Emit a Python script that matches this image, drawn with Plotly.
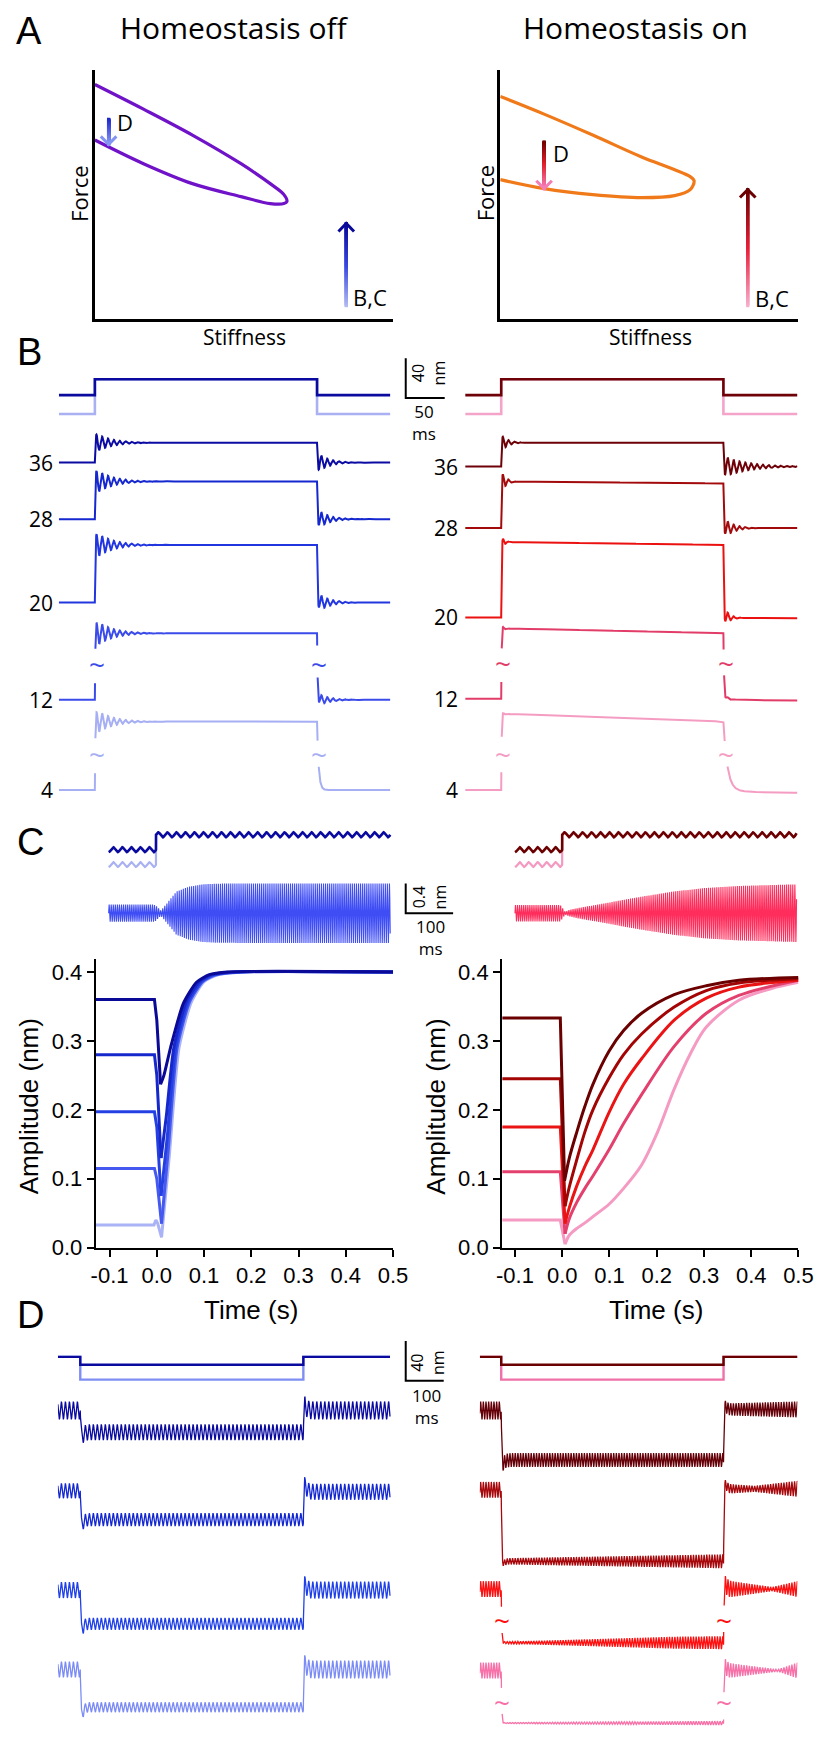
import numpy as np
import plotly.graph_objects as go

W, H = 822, 1739

# ============================ DATA ============================
# ---- Panel A: force / stiffness loops (normalised units) ----
A_OFF_UPPER_X = [0.000, 0.163, 0.327, 0.490, 0.588, 0.634, 0.644]
A_OFF_UPPER_Y = [0.940, 0.841, 0.737, 0.622, 0.542, 0.498, 0.470]
A_OFF_LOWER_X = [0.000, 0.163, 0.327, 0.490, 0.588, 0.634]
A_OFF_LOWER_Y = [0.717, 0.622, 0.542, 0.490, 0.462, 0.462]
A_ON_UPPER_X = [0.000, 0.147, 0.310, 0.474, 0.585, 0.637, 0.650]
A_ON_UPPER_Y = [0.892, 0.821, 0.737, 0.649, 0.598, 0.570, 0.554]
A_ON_LOWER_X = [0.000, 0.147, 0.310, 0.474, 0.585, 0.637]
A_ON_LOWER_Y = [0.558, 0.522, 0.498, 0.486, 0.494, 0.518]
# arrows: x, tail y, head y
A_OFF_ARROW_D = [0.046, 0.800, 0.700]
A_OFF_ARROW_BC = [0.843, 0.052, 0.382]
A_ON_ARROW_D = [0.147, 0.709, 0.522]
A_ON_ARROW_BC = [0.830, 0.052, 0.518]

# ---- Panel B: step responses (ms, nm) ----
B_LABELS = ["36", "28", "20", "12", "4"]
B_T_OFF = 285.0
B_STIM_STEP = [16, 35]                 # dark, light
BL_HEIGHT = [20, 38, 58, 67, 69]
BL_OVER = [9, 12, 13, 13, 12]
BL_UNDER = [9, 9, 9, 6, 0]
BL_SAG = [0, 0, 0, 0, 0]
BL_END = [0, 0, 0, 0, 0]
BR_HEIGHT = [24, 47, 76, 71, 77]
BR_OVER = [7, 9, 6, 4, 3]
BR_UNDER = [10, 9, 9, 5, 0]
BR_SAG = [0, 2, 3, 5, 8]
BR_END = [0, 0, -1, -2, -3]

# ---- Panel C: oscillation amplitude (s, nm) ----
CL_T = [
    [-0.129, -0.005, 0.000, 0.008, 0.015, 0.029, 0.056, 0.084, 0.111, 0.150, 0.500],
    [-0.129, -0.005, 0.000, 0.009, 0.020, 0.036, 0.062, 0.090, 0.115, 0.160, 0.500],
    [-0.129, -0.005, 0.000, 0.009, 0.022, 0.040, 0.066, 0.094, 0.120, 0.170, 0.500],
    [-0.129, -0.005, 0.000, 0.010, 0.024, 0.043, 0.069, 0.097, 0.125, 0.180, 0.500],
    [-0.129, -0.006, -0.002, 0.002, 0.010, 0.026, 0.047, 0.073, 0.100, 0.130, 0.190, 0.500],
]
CL_V = [
    [0.360, 0.360, 0.330, 0.237, 0.250, 0.290, 0.354, 0.385, 0.396, 0.400, 0.400],
    [0.280, 0.280, 0.250, 0.130, 0.190, 0.290, 0.356, 0.386, 0.396, 0.400, 0.400],
    [0.197, 0.197, 0.175, 0.075, 0.160, 0.290, 0.356, 0.386, 0.396, 0.400, 0.400],
    [0.115, 0.115, 0.100, 0.035, 0.140, 0.290, 0.356, 0.386, 0.396, 0.400, 0.400],
    [0.033, 0.033, 0.040, 0.035, 0.015, 0.130, 0.290, 0.356, 0.386, 0.396, 0.400, 0.400],
]
CR_T = [
    [-0.127, -0.004, 0.005, 0.015, 0.031, 0.048, 0.065, 0.099, 0.130, 0.168, 0.237, 0.305, 0.374, 0.500],
    [-0.127, -0.004, 0.006, 0.015, 0.031, 0.048, 0.065, 0.099, 0.130, 0.168, 0.237, 0.305, 0.374, 0.500],
    [-0.127, -0.004, 0.006, 0.015, 0.031, 0.048, 0.065, 0.099, 0.130, 0.168, 0.237, 0.305, 0.374, 0.500],
    [-0.127, -0.004, 0.006, 0.015, 0.031, 0.048, 0.065, 0.099, 0.130, 0.168, 0.237, 0.305, 0.374, 0.500],
    [-0.127, -0.004, 0.006, 0.015, 0.031, 0.048, 0.065, 0.099, 0.130, 0.168, 0.202, 0.237, 0.271,
     0.305, 0.374, 0.443, 0.500],
]
CR_V = [
    [0.333, 0.333, 0.097, 0.130, 0.168, 0.205, 0.237, 0.285, 0.315, 0.340, 0.367, 0.380, 0.388, 0.392],
    [0.245, 0.245, 0.060, 0.088, 0.128, 0.168, 0.200, 0.246, 0.280, 0.310, 0.349, 0.373, 0.384, 0.390],
    [0.175, 0.175, 0.035, 0.058, 0.090, 0.118, 0.142, 0.196, 0.237, 0.274, 0.330, 0.362, 0.378, 0.388],
    [0.110, 0.110, 0.020, 0.042, 0.066, 0.086, 0.104, 0.142, 0.180, 0.222, 0.292, 0.340, 0.366, 0.388],
    [0.040, 0.040, 0.005, 0.018, 0.028, 0.036, 0.045, 0.063, 0.086, 0.120, 0.168, 0.230, 0.281,
     0.320, 0.359, 0.376, 0.385],
]
C_STIM_STEP = [0.2, 0.4]      # dark, light (nm)
C_STIM_AMP = 0.033            # nm
C_STIM_PERIOD = 0.019         # s
C_BAND_FREQ = 230.0           # Hz
C_BAND_TRACE = 3              # band uses envelope of 4th trace

# ---- Panel D: negative steps (ms, nm) ----
D_T_OFF = [587.0, 585.0]
D_STIM_STEP = [8, 23]
DL_STEP = [22, 29, 34, 38]
DL_POST = [0, -1, 0, 0]
DL_OV_ON = [5, 6, 7, 9]
DL_OV_OFF = [6, 8, 7, 7]
DL_AMP_T = [[-60, 0, 3, 587, 590, 820]] * 4
DL_AMP_V = [[9, 9, 8, 8, 9, 9],
            [7.5, 7.5, 6.5, 6.5, 8, 8],
            [8, 8, 6, 6, 8.5, 8.5],
            [8, 8, 5, 5, 9, 9]]
DR_STEP = [50, 72, 54, 53]
DR_POST = [1, 1, 0, 0]
DR_OV_ON = [5, 3, 0, 0]
DR_OV_OFF = [4, 6, 6, 5]
DR_AMP_T = [[-57, 0, 3, 585, 588, 780],
            [-57, 0, 3, 585, 588, 667, 780],
            [-57, 0, 3, 113, 285, 456, 585, 588, 713, 780],
            [-57, 0, 3, 585, 588, 728, 780]]
DR_AMP_V = [[9, 9, 7, 7, 6, 8],
            [8, 8, 3, 7, 5, 3, 8],
            [8, 8, 1, 2, 4, 6, 6.5, 9, 2, 8],
            [8, 8, 0.5, 2, 8, 1, 8]]

# ============================ STYLE / LAYOUT ============================
MYR = "Open Sans, Noto Sans, DejaVu Sans, sans-serif"
ARL = "Liberation Sans, Arial, sans-serif"

BLUE_STIM = ["#0A0A9E", "#A9B1F2"]
RED_STIM = ["#6E0008", "#F4A3C9"]
BL_COLORS = ["#0B0BA3", "#1527CF", "#2236E0", "#3A4BEA", "#A6AEF4"]
BR_COLORS = ["#6E0008", "#A30A0C", "#EC1111", "#E23D69", "#F59CC3"]
CL_COLORS = ["#0A0A96", "#1628CC", "#2540E2", "#4558F0", "#A9B3F5"]
CR_COLORS = ["#6B0000", "#A30505", "#EA1414", "#E4406E", "#F59AC2"]
C_BAND_COLORS = ["#3F4DF5", "#FF2D5C"]
DL_COLORS = ["#0A0AA0", "#1428D2", "#2040E8", "#7C8CF5"]
DR_COLORS = ["#650008", "#A6080C", "#FF1010", "#F870A8"]
D_STIM_L = ["#0A0A9E", "#7E8EF2"]
D_STIM_R = ["#6B0000", "#F070A8"]

BL_BASE = [342, 285, 201, 103, 12]
BR_BASE = [338, 276, 186, 104, 12]
B_STIM_BASE = 410
B_GAP = (24, 49)
DL_BASE = [326, 245, 145, 65]
DR_BASE = [326, 246, 146, 64]
D_STIM_BASE = 380
DR_GAP = [None, None, (20, 42), (22, 42)]

fig = go.Figure()
axes = {}
anns = []


def make_axes(n, xpx, ypx, xr, yr, xkw=None, ykw=None):
    xn = 'xaxis' if n == 1 else f'xaxis{n}'
    yn = 'yaxis' if n == 1 else f'yaxis{n}'
    xref = 'x' if n == 1 else f'x{n}'
    yref = 'y' if n == 1 else f'y{n}'
    base = dict(showgrid=False, zeroline=False, showticklabels=False, ticks='',
                showline=False, fixedrange=True)
    xa = dict(base, domain=[xpx[0] / W, xpx[1] / W], range=xr, anchor=yref)
    ya = dict(base, domain=[1 - ypx[1] / H, 1 - ypx[0] / H], range=yr, anchor=xref)
    if xkw:
        xa.update(xkw)
    if ykw:
        ya.update(ykw)
    axes[xn] = xa
    axes[yn] = ya
    return xref, yref


def line(ax, x, y, color, width, shape='linear', smoothing=None):
    ln = dict(color=color, width=width, shape=shape)
    if smoothing is not None:
        ln['smoothing'] = smoothing
    y = [None if (v is None or (isinstance(v, float) and np.isnan(v))) else float(v) for v in y]
    x = [float(v) for v in x]
    fig.add_trace(go.Scatter(x=x, y=y, mode='lines', line=ln, xaxis=ax[0], yaxis=ax[1],
                             hoverinfo='skip', showlegend=False))


def ann_px(text, px, py, size, family=MYR, color='black', angle=0,
           xanchor='center', yanchor='middle'):
    anns.append(dict(text=text, x=px / W, y=1 - py / H, xref='paper', yref='paper',
                     showarrow=False, textangle=angle, xanchor=xanchor, yanchor=yanchor,
                     font=dict(size=size, family=family, color=color)))


def hex2rgb(h):
    h = h.lstrip('#')
    return [int(h[i:i + 2], 16) for i in (0, 2, 4)]


def grad_colors(stops, n):
    rgb = np.array([hex2rgb(c) for c in stops], float)
    pos = np.linspace(0, 1, len(stops))
    out = []
    for k in np.linspace(0, 1, n):
        r, g, b = (np.interp(k, pos, rgb[:, i]) for i in range(3))
        out.append(f'rgb({r:.0f},{g:.0f},{b:.0f})')
    return out


# ============================ PANEL A ============================
A_AX_PX = [((83, 389), (62, 313)), ((499, 805), (62, 313))]
akw = dict(showline=True, linecolor='black', linewidth=2.6)
axA = [make_axes(1, *A_AX_PX[0], [0, 1], [0, 1], akw, akw),
       make_axes(2, *A_AX_PX[1], [0, 1], [0, 1], akw, akw)]
loops = [(A_OFF_UPPER_X, A_OFF_UPPER_Y, A_OFF_LOWER_X, A_OFF_LOWER_Y, "#7012C8"),
         (A_ON_UPPER_X, A_ON_UPPER_Y, A_ON_LOWER_X, A_ON_LOWER_Y, "#F07A1A")]
for ax, (ux, uy, lx, ly, col) in zip(axA, loops):
    line(ax, list(ux) + list(lx[::-1]), list(uy) + list(ly[::-1]), col, 3.2, 'spline', 1.0)


def grad_arrow(ax, arrow, stops, sx=306.0, sy=251.0):
    x, y0, y1 = arrow
    n = 120
    ys = np.linspace(y0, y1, n)
    cols = grad_colors(stops, n)
    fig.add_trace(go.Scatter(x=[x] * n, y=ys, mode='markers', xaxis=ax[0], yaxis=ax[1],
                             marker=dict(symbol='square', size=3.2, color=cols, line_width=0),
                             hoverinfo='skip', showlegend=False))
    d = np.sign(y1 - y0)
    hx, hy = 8.0 / sx, 8.0 / sy
    line(ax, [x - hx, x, x + hx], [y1 - d * hy, y1, y1 - d * hy], stops[-1], 3.0)


grad_arrow(axA[0], A_OFF_ARROW_D, ["#1A24C8", "#8494F2"])
grad_arrow(axA[0], A_OFF_ARROW_BC, ["#B4BCF4", "#3848E0", "#0A0A9A"])
grad_arrow(axA[1], A_ON_ARROW_D, ["#6B0000", "#E0202A", "#F47DB4"])
grad_arrow(axA[1], A_ON_ARROW_BC, ["#F8B0D0", "#E8203A", "#6B0000"])

ann_px("A", 15, 23, 38, ARL)
ann_px("Homeostasis off", 226, 20, 30)
ann_px("Homeostasis on", 638, 20, 30)
ann_px("Force", 66, 187, 22, angle=-90)
ann_px("Force", 483, 187, 22, angle=-90)
ann_px("Stiffness", 237, 331, 21)
ann_px("Stiffness", 653, 331, 21)
ann_px("D", 114, 115, 22)
ann_px("B,C", 365, 291, 22)
ann_px("D", 561, 146, 22)
ann_px("B,C", 778, 292, 22)

# ============================ PANEL B ============================
axBL = make_axes(3, (46, 450), (340, 800), [-46.25, 458.75], [0, 460])
axBR = make_axes(4, (463, 804), (340, 800), [-46.25, 380.0], [0, 460])
tB = np.arange(-46.25, 380.0001, 0.1)


def b_response(t, h, ov, un, sag, end, tau_on, tau_off, tau_fall, P=7.5, tau_r=0.6):
    y = np.zeros_like(t)
    on = (t >= 0) & (t < B_T_OFF)
    s = t[on]
    y[on] = (h * (1 - np.exp(-s / tau_r)) - sag * (s / B_T_OFF)
             + ov * np.exp(-(s - P / 4) / tau_on) * np.sin(2 * np.pi * s / P))
    off = t >= B_T_OFF
    s = t[off] - B_T_OFF
    lvl = h - sag
    y[off] = (lvl * np.exp(-s / tau_fall) + end * (1 - np.exp(-s / 40.0))
              - un * np.exp(-(s - P / 4) / tau_off) * np.sin(2 * np.pi * s / P))
    return y


def mask_gap(t, y, lo, hi, edges, win=12):
    near = np.zeros_like(t, dtype=bool)
    for e in edges:
        near |= np.abs(t - e) < win
    y = y.copy()
    y[near & (y > lo) & (y < hi)] = np.nan
    return y


b_cfg = [
    (axBL, 378.75, BL_HEIGHT, BL_OVER, BL_UNDER, BL_SAG, BL_END, BL_BASE, BL_COLORS, BLUE_STIM,
     [20] * 5, [14] * 5, [0.8, 0.8, 0.8, 0.8, 2.0], 83, 311, 42),
    (axBR, 380.0, BR_HEIGHT, BR_OVER, BR_UNDER, BR_SAG, BR_END, BR_BASE, BR_COLORS, RED_STIM,
     [8, 5, 3, 2, 2], [30, 12, 6, 3, 3], [0.8, 0.8, 0.8, 1.0, 5.0], 500, 729, 458),
]
for (ax, tend, HT, OV, UN, SG, EN, BASE, COLS, STIM, TON, TOFF, TF, xon, xoff, labx) in b_cfg:
    for k in (1, 0):
        b = B_STIM_BASE if k == 0 else B_STIM_BASE - (B_STIM_STEP[1] - B_STIM_STEP[0])
        top = b + B_STIM_STEP[k]
        line(ax, [-46.25, 0, 0, B_T_OFF, B_T_OFF, tend], [b, b, top, top, b, b], STIM[k], 2.6)
    t = tB[tB <= tend + 1e-9]
    for i in range(5):
        y = b_response(t, HT[i], OV[i], UN[i], SG[i], EN[i], TON[i], TOFF[i], TF[i])
        if i >= 3:
            y = mask_gap(t, y, B_GAP[0], B_GAP[1], [0.0, B_T_OFF])
            ymid = 800 - BASE[i] - (B_GAP[0] + B_GAP[1]) / 2
            ann_px("~", xon + 2, ymid, 28, color=COLS[i])
            ann_px("~", xoff + 2, ymid, 28, color=COLS[i])
        line(ax, t, y + BASE[i], COLS[i], 2.0)
        ann_px(B_LABELS[i], labx, 800 - BASE[i], 21, xanchor='right')

# B scale bar (50 ms, 40 nm)
line(axBL, [398.75, 398.75, 448.75], [447, 407, 407], 'black', 2.0)
ann_px("40<br>nm", 425, 368, 16, angle=-90)
ann_px("50<br>ms", 421, 418, 17)
ann_px("B", 16, 347, 38, ARL)

# ============================ PANEL C (traces) ============================
axCTL = make_axes(5, (83, 455), (825, 945), [-0.129, 0.6357], [-0.44, 1.16])
axCTR = make_axes(6, (501, 805), (825, 945), [-0.127, 0.5], [-0.44, 1.16])
C_STIM_PRE = [0.853, 0.653]
for ax, tt, vv, band_col, stim_cols, tend in [
        (axCTL, CL_T, CL_V, C_BAND_COLORS[0], BLUE_STIM, 0.4941),
        (axCTR, CR_T, CR_V, C_BAND_COLORS[1], ["#6B0000", "#F49AC2"], 0.4961)]:
    t = np.arange(-0.1, tend, 0.0001)
    for k in (1, 0):
        c = np.where(t < 0, C_STIM_PRE[k], C_STIM_PRE[k] + C_STIM_STEP[k])
        y = c + C_STIM_AMP * np.sin(2 * np.pi * t / C_STIM_PERIOD)
        line(ax, t, y, stim_cols[k], 2.6 if k == 0 else 2.2)
    env = np.interp(t, tt[C_BAND_TRACE], vv[C_BAND_TRACE])
    line(ax, t, env * np.sin(2 * np.pi * C_BAND_FREQ * t), band_col, 1.1)

# C scale bar (100 ms, 0.4 nm)
line(axCTL, [0.5267, 0.5267, 0.6267], [0.4, 0.0, 0.0], 'black', 2.0)
ann_px("0.4<br>nm", 426, 896, 16, angle=-90)
ann_px("100<br>ms", 427, 936, 17)
ann_px("C", 17, 840, 38, ARL)

# ============================ PANEL C (amplitude plots) ============================
XT = [-0.1, 0.0, 0.1, 0.2, 0.3, 0.4, 0.5]
XTT = ["-0.1", "0.0", "0.1", "0.2", "0.3", "0.4", "0.5"]
YT = [0.0, 0.1, 0.2, 0.3, 0.4]
YTT = ["0.0", "0.1", "0.2", "0.3", "0.4"]
ckx = dict(showline=True, linecolor='black', linewidth=2.2, ticks='outside', ticklen=7,
           tickwidth=2.2, tickcolor='black', showticklabels=True, tickvals=XT, ticktext=XTT,
           tickfont=dict(family=ARL, size=22, color='black'))
cky = dict(ckx, tickvals=YT, ticktext=YTT)
axCBL = make_axes(7, (84, 389), (958, 1249), [-0.129, 0.5], [0, 0.419], ckx, cky)
axCBR = make_axes(8, (501, 805), (958, 1249), [-0.127, 0.5], [0, 0.419], ckx, cky)
for ax, tt, vv, cols, sm in [(axCBL, CL_T, CL_V, CL_COLORS, 0.6), (axCBR, CR_T, CR_V, CR_COLORS, 0.9)]:
    for i in range(4, -1, -1):
        k = int(np.argmin(vv[i]))
        # flat level and drop drawn straight, recovery drawn smooth
        line(ax, tt[i][:k + 1], vv[i][:k + 1], cols[i], 3.0)
        line(ax, tt[i][k:], vv[i][k:], cols[i], 3.0, 'spline', sm)
for xc in (15, 433):
    ann_px("Amplitude (nm)", xc, 1107, 26, ARL, angle=-90)
for xc in (243, 659):
    ann_px("Time (s)", xc, 1312, 26, ARL)

# ============================ PANEL D ============================
axDL = make_axes(9, (45, 450), (1330, 1739), [-59.0, 979.5], [0, 409])
axDR = make_axes(10, (478, 804), (1330, 1739), [-56.4, 779.5], [0, 409])


def d_response(t, t_off, step, post, amp_t, amp_v, ov_on, ov_off, P, tau_s=1.2, tau_a=3.0):
    c = np.zeros_like(t)
    on = (t >= 0) & (t < t_off)
    s = t[on]
    c[on] = -step * (1 - np.exp(-s / tau_s)) - ov_on * (s / tau_a) * np.exp(1 - s / tau_a)
    off = t >= t_off
    s = t[off] - t_off
    c[off] = post + (-step - post) * np.exp(-s / tau_s) + ov_off * (s / tau_a) * np.exp(1 - s / tau_a)
    amp = np.interp(t, amp_t, amp_v)
    return c + amp * np.sin(2 * np.pi * t / P)


d_cfg = [
    (axDL, 0, -59.0, 815.0, DL_STEP, DL_POST, DL_AMP_T, DL_AMP_V, DL_OV_ON, DL_OV_OFF,
     DL_BASE, DL_COLORS, D_STIM_L, 10.5, [None] * 4, 68, 297),
    (axDR, 1, -56.4, 779.5, DR_STEP, DR_POST, DR_AMP_T, DR_AMP_V, DR_OV_ON, DR_OV_OFF,
     DR_BASE, DR_COLORS, D_STIM_R, 7.0, DR_GAP, 501, 729),
]
for (ax, side, t0, t1, ST, PO, AT, AV, OVN, OVF, BASE, COLS, STIM, P, GAPS, xon, xoff) in d_cfg:
    toff = D_T_OFF[side]
    for k in (1, 0):
        b = D_STIM_BASE
        lo = b - D_STIM_STEP[k]
        line(ax, [t0, 0, 0, toff, toff, t1], [b, b, lo, lo, b, b], STIM[k], 2.4)
    t = np.arange(t0, t1 + 1e-9, 0.25)
    for i in range(4):
        y = d_response(t, toff, ST[i], PO[i], AT[i], AV[i], OVN[i], OVF[i], P)
        if GAPS[i] is not None:
            g0, g1 = GAPS[i]
            y = mask_gap(t, y, -g1, -g0, [0.0, toff], win=8)
            ymid = 1739 - BASE[i] + (g0 + g1) / 2
            ann_px("~", xon, ymid, 28, color=COLS[i])
            ann_px("~", xoff, ymid, 28, color=COLS[i])
        line(ax, t, y + BASE[i], COLS[i], 1.3)

# D scale bar (100 ms, 40 nm)
line(axDL, [856.4, 856.4, 956.4], [396, 356, 356], 'black', 2.0)
ann_px("40<br>nm", 425, 1365, 16, angle=-90)
ann_px("100<br>ms", 423, 1409, 17)
ann_px("D", 17, 1317, 38, ARL)

fig.update_layout(width=W, height=H, margin=dict(l=0, r=0, t=0, b=0),
                  paper_bgcolor='white', plot_bgcolor='rgba(0,0,0,0)',
                  showlegend=False, annotations=anns, **axes)
fig.write_html("out.html")
